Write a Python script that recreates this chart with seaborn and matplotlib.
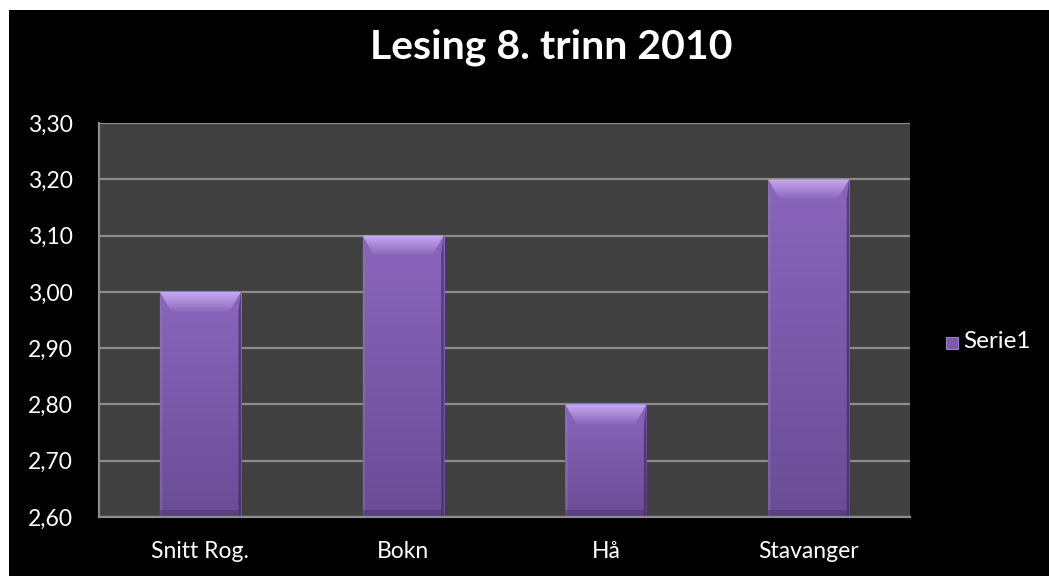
import numpy as np
import pandas as pd
import matplotlib
matplotlib.use("Agg")
import matplotlib.pyplot as plt
from matplotlib.patches import Rectangle
from matplotlib.ticker import FuncFormatter
from matplotlib.colors import LinearSegmentedColormap
import seaborn as sns

categories = ["Snitt Rog.", "Bokn", "Hå", "Stavanger"]
values = [3.00, 3.10, 2.80, 3.20]
series_name = "Serie1"
title = "Lesing 8. trinn 2010"
y_min, y_max, y_step = 2.60, 3.30, 0.10

df = pd.DataFrame({"Kategori": categories, "Verdi": values})

sns.set_theme(style="dark")
plt.rcParams["font.family"] = ["Lato", "DejaVu Sans"]

fig = plt.figure(figsize=(10.49, 5.76), dpi=100, facecolor="white")
# black chart area with a thin white margin on top and left
fig.patches.append(Rectangle((9 / 1049, 0), 1 - 9 / 1049, 1 - 10 / 576,
                             transform=fig.transFigure, facecolor="black",
                             edgecolor="none", zorder=-10))

ax = fig.add_axes([99 / 1049, 1 - 517 / 576, (910 - 99) / 1049, (517 - 123) / 576])
ax.set_facecolor("#404040")

bar_color = "#7b5ba8"
sns.barplot(data=df, x="Kategori", y="Verdi", color=bar_color, width=0.4,
            ax=ax, zorder=3, edgecolor="#3a2a55", linewidth=0.8)

ax.set_ylim(y_min, y_max)
ticks = np.round(np.arange(y_min, y_max + 1e-9, y_step), 2)
ax.set_yticks(ticks)
ax.yaxis.set_major_formatter(FuncFormatter(lambda v, p: f"{v:.2f}".replace(".", ",")))
ax.grid(axis="y", color="#8c8c8c", linewidth=1.6, zorder=1)
ax.grid(axis="x", visible=False)
ax.set_axisbelow(True)

# vertical shading (lighter at the top) and a bevelled top on each bar
grad = np.linspace(0, 1, 256).reshape(-1, 1)
cmap = LinearSegmentedColormap.from_list("bar", ["#8966bc", "#6a4c96"])
bev = LinearSegmentedColormap.from_list("bev", ["#c8aaf4", "#8a68bc"])
for patch in ax.patches:
    x0 = patch.get_x()
    w = patch.get_width()
    top = patch.get_y() + patch.get_height()
    bot = y_min
    im = ax.imshow(grad, extent=(x0, x0 + w, bot, top), aspect="auto",
                   cmap=cmap, zorder=3.5, origin="upper")
    im.set_clip_path(patch)
    h = 0.035
    inset = w * 0.14
    im2 = ax.imshow(grad, extent=(x0, x0 + w, top - h, top), aspect="auto",
                    cmap=bev, zorder=3.6, origin="upper")
    tri = ax.fill([x0, x0 + w, x0 + w - inset, x0 + inset],
                  [top, top, top - h, top - h], color="none", linewidth=0,
                  zorder=3.6)[0]
    im2.set_clip_path(tri)
    ax.fill([x0 + w - 0.012, x0 + w, x0 + w, x0 + w - 0.012],
            [bot, bot, top, top - h], color="#3e2c5c", alpha=0.7,
            zorder=3.7, linewidth=0)
    ax.fill([x0, x0 + 0.012, x0 + 0.012, x0],
            [bot, bot, top - h, top], color="#9878c8", alpha=0.4,
            zorder=3.7, linewidth=0)
    ax.fill([x0, x0 + w, x0 + w, x0],
            [bot, bot, bot + 0.012, bot + 0.012], color="#4f3873", alpha=0.6,
            zorder=3.7, linewidth=0)
ax.set_xlim(-0.5, len(categories) - 0.5)
ax.set_ylim(y_min, y_max)

for side in ["top", "right"]:
    ax.spines[side].set_visible(False)
for side in ["left", "bottom"]:
    ax.spines[side].set_visible(True)
    ax.spines[side].set_color("#8c8c8c")
    ax.spines[side].set_linewidth(1.6)
    ax.spines[side].set_zorder(4)

ax.set_xlabel("")
ax.set_ylabel("")
ax.tick_params(axis="both", colors="white", labelsize=16.5, length=0)
ax.tick_params(axis="y", pad=19)
ax.tick_params(axis="x", pad=17)
for lbl in ax.get_xticklabels() + ax.get_yticklabels():
    lbl.set_color("white")

fig.text(551 / 1049, 1 - 47 / 576, title, color="white", fontsize=29.5,
         fontweight="bold", ha="center", va="center")

# legend entry
fig.patches.append(Rectangle((946 / 1049, 1 - 349 / 576), 12 / 1049, 12 / 576,
                             transform=fig.transFigure, facecolor="#7b5ba8",
                             edgecolor="#b292e0", linewidth=0.6))
fig.text(963 / 1049, 1 - 342 / 576, series_name, color="white", fontsize=17.5,
         ha="left", va="center")

fig.savefig("out.png", dpi=100, facecolor=fig.get_facecolor())
